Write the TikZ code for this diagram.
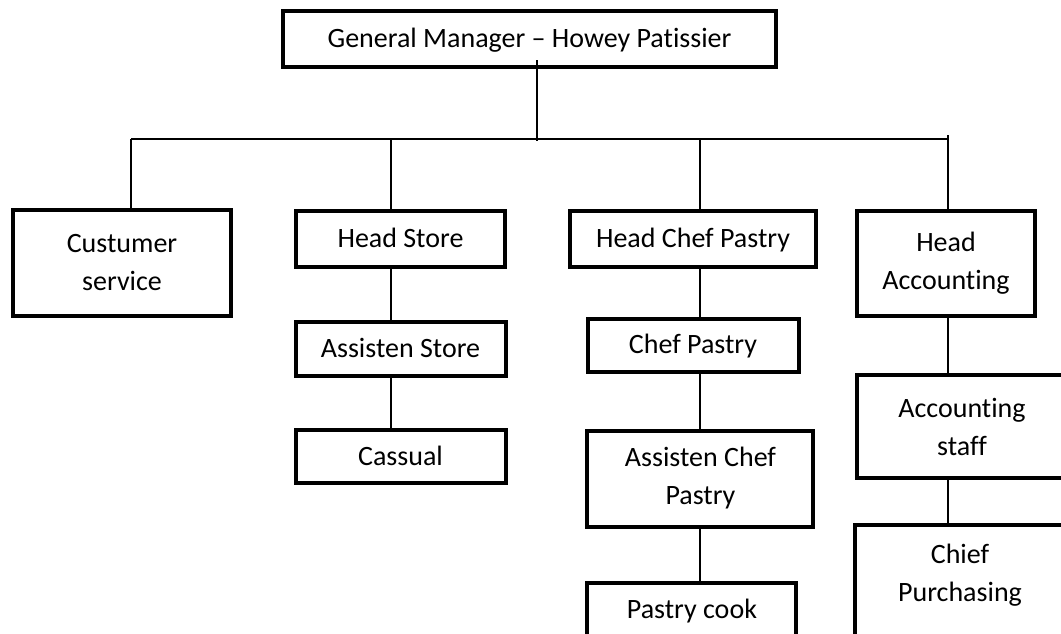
\documentclass[tikz,border=0pt]{standalone}
\usepackage{fontspec}
\setmainfont{Carlito}[Ligatures={TeX,NoCommon}]
\usetikzlibrary{positioning, calc}

\begin{document}
\begin{tikzpicture}[
		x=0.75pt, y=-0.75pt,
		every node/.style={font=\fontsize{21}{28.5}\selectfont},
		box/.style={draw, line width=3pt, align=center, inner sep=0pt},
		single/.style={box, text height=13.3pt, text depth=0pt},
		link/.style={draw, line width=0.8pt},
		]
		\clip (0,0) rectangle (1061,633);
		% General manager on top
		\node[single, minimum width=369.75pt, minimum height=42pt] at (529.5,39) (gm) {General Manager – Howey Patissier};
		
		% first level
		\node[box, minimum width=163.5pt, minimum height=79.5pt] at (122,263) (cs) {Custumer\\service};
		\node[single, minimum width=156.75pt, minimum height=42pt] at (400.5,239) (hs) {Head Store};
		\node[single, minimum width=184.5pt, minimum height=42pt] at (693,238.5) (hcp) {Head Chef Pastry};
		\node[box, minimum width=133.5pt, minimum height=78.75pt] at (946,263.5) (ha) {Head\\Accounting};
		
		% store
		\node[single, minimum width=157.5pt, minimum height=40.5pt, below = 38.25pt of hs] (as) {Assisten Store};
		\node[single, minimum width=157.5pt, minimum height=39.75pt, below = 37.5pt of as] (cas) {Cassual};
		
		% pastry
		\node[single, minimum width=158.25pt, minimum height=39.75pt, below = 36pt of hcp] (cp) {Chef Pastry};
		\node[box, minimum width=169.5pt, minimum height=72pt, below = 41.25pt of cp, xshift=5.6pt] (acp) {Assisten Chef\\Pastry};
		\node[single, minimum width=156.75pt, minimum height=40.5pt, below = 39pt of acp, xshift=-6.4pt] (pc) {Pastry cook};
		
		% accounting
		\node[box, minimum width=157.5pt, minimum height=77.25pt, below = 41.25pt of ha, xshift=12pt] (ast) {Accounting\\staff};
		\node[box, minimum width=157.5pt, inner ysep=14pt, text depth=100pt, below = 32.25pt of ast, xshift=-1.5pt] (chp) {Chief\\Purchasing};
		
		% lines
		\coordinate (gmx) at (537,141);
		\coordinate (csx) at (131,139);
		\coordinate (hsx) at (391,139);
		\coordinate (hcpx) at (700,139);
		\coordinate (hax) at (948,139);
		
		\draw[link] ($(gm.south -| gmx)+(0,-9)$) -- (gmx);
		\draw[link] (csx) -- (hax);
		\draw[link] (csx) -- (csx |- cs.north);
		\draw[link] (hsx) -- (hsx |- hs.north);
		\draw[link] (hcpx) -- (hcpx |- hcp.north);
		\draw[link] ($(hax)+(0,-4)$) -- (hax |- ha.north);
		
		\draw[link] (hs.south -| hsx) -- (as.north -| hsx);
		\draw[link] (as.south -| hsx) -- (cas.north -| hsx);
		
		\draw[link] (hcp.south -| hcpx) -- (cp.north -| hcpx);
		\draw[link] (cp.south -| hcpx) -- (acp.north -| hcpx);
		\draw[link] (acp.south -| hcpx) -- (pc.north -| hcpx);
		
		\draw[link] (ha.south -| hax) -- (ast.north -| hax);
		\draw[link] (ast.south -| hax) -- (chp.north -| hax);
		
	\end{tikzpicture}
\end{document}
